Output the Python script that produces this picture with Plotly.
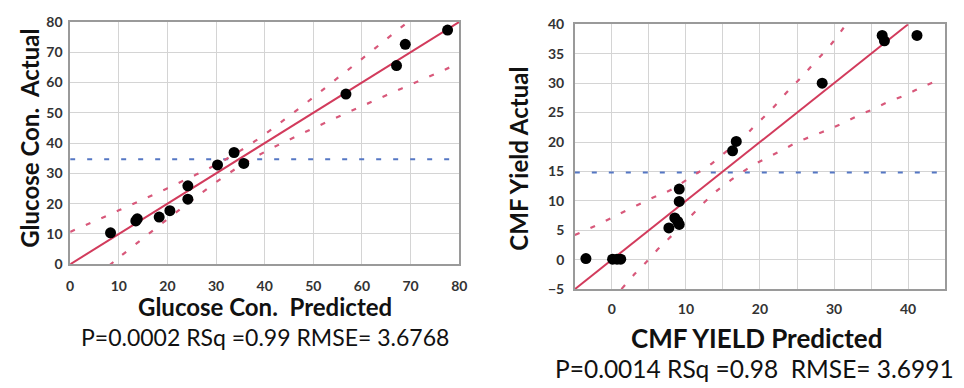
import plotly.graph_objects as go

# ---------------- Left chart: Glucose concentration ----------------
glu_pred = [8.3, 13.5, 13.8, 18.3, 20.5, 24.2, 24.2, 30.3, 33.7, 35.7, 56.7, 67.1, 68.9, 77.6]
glu_act = [10.4, 14.3, 15.0, 15.6, 17.7, 21.5, 25.9, 32.8, 36.9, 33.3, 56.2, 65.6, 72.6, 77.3]
glu_fit_x = [0, 80]
glu_fit_y = [0, 80]
glu_up_x = [0, 5, 10, 15, 20, 25, 30, 35, 40, 45, 50, 55, 60, 65, 70]
glu_up_y = [10.7, 14.2, 17.8, 21.4, 25.1, 28.9, 32.9, 37.5, 42.9, 48.9, 55.1, 61.5, 67.8, 74.3, 80.7]
glu_lo_x = [8, 10, 15, 20, 25, 30, 35, 40, 45, 50, 55, 60, 65, 70, 75, 80]
glu_lo_y = [-0.4, 2.2, 8.6, 14.9, 21.1, 27.1, 32.5, 37.1, 41.1, 44.9, 48.6, 52.2, 55.8, 59.3, 62.8, 66.4]
glu_mean_x = [0, 80]
glu_mean_y = [34.7, 34.7]
glu_ticks = [0, 10, 20, 30, 40, 50, 60, 70, 80]

# ---------------- Right chart: CMF yield ----------------
cmf_pred = [-3.5, 0.1, 0.7, 1.2, 7.7, 8.5, 8.9, 9.1, 9.1, 9.1, 16.3, 16.8, 28.4, 36.5, 36.8, 41.2]
cmf_act = [0.2, 0.1, 0.1, 0.1, 5.4, 7.1, 6.5, 6.0, 9.9, 12.0, 18.5, 20.1, 30.0, 38.1, 37.2, 38.1]
cmf_fit_x = [-5, 40]
cmf_fit_y = [-5, 40]
cmf_up_x = [-5, -1, 2, 5.3, 8, 11.1, 12.8, 14.8, 18, 19.5, 21.3, 24.1, 25.6, 27.1, 30, 31.6]
cmf_up_y = [4.2, 6.5, 8.4, 10.4, 11.9, 14.4, 15.7, 17.7, 21.1, 23, 25.2, 29.1, 31, 33.1, 37.2, 40]
cmf_lo_x = [1.3, 3.1, 4.5, 6, 7.7, 13.7, 15.5, 17.3, 19.1, 21.1, 23.1, 25.1, 27.2, 29.2,
            31.2, 33.3, 35.3, 37.3, 39.5, 41.5, 43.5]
cmf_lo_y = [-5, -2.4, -0.6, 1.5, 3.6, 11.2, 13, 14.6, 16.1, 17.4, 18.7, 20, 21.1, 22.1,
            23.2, 24.5, 25.6, 26.8, 27.9, 29.1, 30.2]
cmf_mean_x = [-5, 45]
cmf_mean_y = [14.8, 14.8]
cmf_xticks = [0, 10, 20, 30, 40]
cmf_yticks = [-5, 0, 5, 10, 15, 20, 25, 30, 35, 40]

FIT = "#d23b5c"
BAND = "#d8587a"
MEAN = "#5577c4"
GRID = "#d4d4d4"
FRAME = "#9a9a9a"
TICKFONT = dict(family="Lato", size=14, color="#333333", weight="bold")

fig = go.Figure()


def add_panel(xa, ya, px, py, fx, fy, ux, uy, lx, ly, mx, my):
    fig.add_trace(go.Scatter(x=mx, y=my, mode="lines", xaxis=xa, yaxis=ya,
                             line=dict(color=MEAN, width=2, dash="5px,12px"), hoverinfo="skip"))
    fig.add_trace(go.Scatter(x=ux, y=uy, mode="lines", xaxis=xa, yaxis=ya,
                             line=dict(color=BAND, width=2.2, dash="5px,12px", shape="spline"),
                             hoverinfo="skip"))
    fig.add_trace(go.Scatter(x=lx, y=ly, mode="lines", xaxis=xa, yaxis=ya,
                             line=dict(color=BAND, width=2.2, dash="5px,12px", shape="spline"),
                             hoverinfo="skip"))
    fig.add_trace(go.Scatter(x=fx, y=fy, mode="lines", xaxis=xa, yaxis=ya,
                             line=dict(color=FIT, width=2)))
    fig.add_trace(go.Scatter(x=px, y=py, mode="markers", xaxis=xa, yaxis=ya,
                             marker=dict(color="black", size=11)))


add_panel("x", "y", glu_pred, glu_act, glu_fit_x, glu_fit_y, glu_up_x, glu_up_y,
          glu_lo_x, glu_lo_y, glu_mean_x, glu_mean_y)
add_panel("x2", "y2", cmf_pred, cmf_act, cmf_fit_x, cmf_fit_y, cmf_up_x, cmf_up_y,
          cmf_lo_x, cmf_lo_y, cmf_mean_x, cmf_mean_y)

W, H = 964, 388
common = dict(showgrid=True, gridcolor=GRID, gridwidth=1, zeroline=False,
              showline=True, linecolor=FRAME, linewidth=1.5, mirror=True,
              tickfont=TICKFONT, ticks="")

fig.update_layout(
    width=W, height=H,
    margin=dict(l=0, r=0, t=0, b=0),
    paper_bgcolor="white", plot_bgcolor="white",
    showlegend=False,
    xaxis=dict(domain=[67 / W, 461 / W], range=[0, 80], tickvals=glu_ticks,
               ticklabelstandoff=8, anchor="y", **common),
    yaxis=dict(domain=[1 - 267 / H, 1 - 13.5 / H], range=[0, 80], tickvals=glu_ticks,
               ticklabelstandoff=3, anchor="x", **common),
    xaxis2=dict(domain=[578 / W, 953 / W], range=[-5, 45], tickvals=cmf_xticks,
                minor=dict(dtick=5, tick0=0, showgrid=True, gridcolor=GRID, gridwidth=1),
                ticklabelstandoff=6, anchor="y2", **common),
    yaxis2=dict(domain=[1 - 293 / H, 1 - 16 / H], range=[-5, 40], tickvals=cmf_yticks,
                ticklabelstandoff=6, anchor="x2", **common),
)


def font(size, bold):
    f = dict(family="Lato", size=size, color="#111111")
    if bold:
        f["weight"] = "bold"
    return f


def ann(text, x, y, fnt, angle=0):
    fig.add_annotation(text=text, x=x / W, y=1 - y / H, xref="paper", yref="paper",
                       showarrow=False, font=fnt, textangle=angle,
                       xanchor="center", yanchor="middle")


ann("Glucose Con.  Actual", 25, 135, font(24, True), -90)
ann("Glucose Con.  Predicted", 264, 311, font(24, True))
ann("P=0.0002 RSq =0.99 RMSE= 3.6768", 264, 343, font(23, False))
ann("CMF Yield Actual", 521, 157, font(24, True), -90)
ann("CMF YIELD Predicted", 762, 344, font(26, True))
ann("P=0.0014 RSq =0.98  RMSE= 3.6991", 760, 376, font(24.5, False))

fig.write_html("out.html")
